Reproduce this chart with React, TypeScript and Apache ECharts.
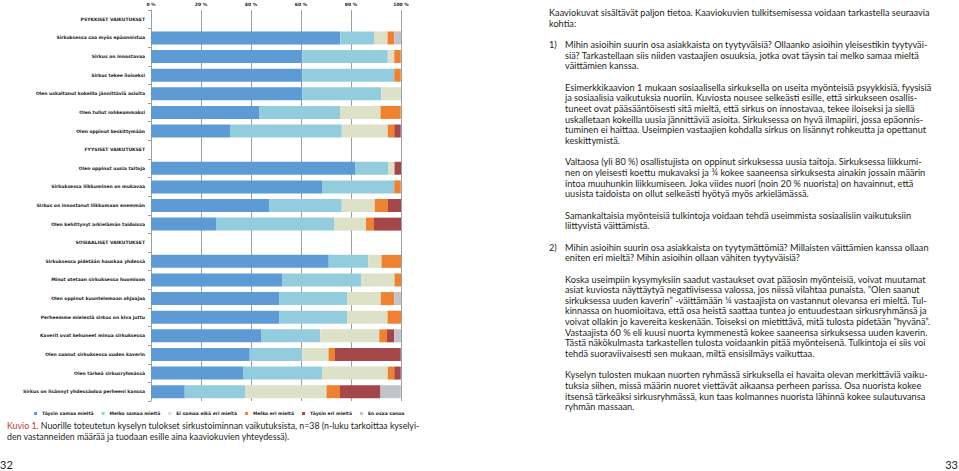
import React, { useEffect, useRef } from "react";
import * as echarts from "echarts";

const categories = [
  "PSYKKISET VAIKUTUKSET",
  "Sirkuksessa saa myös epäonnistua",
  "Sirkus on innostavaa",
  "Sirkus tekee iloiseksi",
  "Olen uskaltanut kokeilla jännittäviä asioita",
  "Olen tullut rohkeammaksi",
  "Olen oppinut keskittymään",
  "FYYSISET VAIKUTUKSET",
  "Olen oppinut uusia taitoja",
  "Sirkuksessa liikkuminen on mukavaa",
  "Sirkus on innostanut liikkumaan enemmän",
  "Olen kehittynyt arkielämän taidoissa",
  "SOSIAALISET VAIKUTUKSET",
  "Sirkuksessa pidetään hauskaa yhdessä",
  "Minut otetaan sirkuksessa huomioon",
  "Olen oppinut kuuntelemaan ohjaajaa",
  "Perheemme mielestä sirkus on kiva juttu",
  "Kaverit ovat kehuneet minua sirkuksessa",
  "Olen saanut sirkuksessa uuden kaverin",
  "Olen tärkeä sirkusryhmässä",
  "Sirkus on lisännyt yhdessäoloa perheeni kanssa",
];

const seriesNames = [
  "Täysin samaa mieltä",
  "Melko samaa mieltä",
  "Ei samaa eikä eri mieltä",
  "Melko eri mieltä",
  "Täysin eri mieltä",
  "En osaa sanoa",
];

const taysinSamaa = [null, 75.7, 60.5, 60.5, 60.5, 43.2, 31.6, null, 81.6, 68.4, 47.4, 26.0, null, 71.1, 52.6, 51.4, 51.4, 44.0, 39.5, 36.8, 13.5];
const melkoSamaa = [null, 13.5, 34.2, 36.8, 31.6, 32.4, 44.7, null, 13.2, 28.9, 28.9, 47.2, null, 15.8, 31.6, 27.0, 27.0, 23.7, 21.0, 31.6, 24.3];
const eiSamaaEiEri = [null, 5.4, 2.6, 0, 7.9, 16.2, 18.4, null, 2.6, 0, 13.2, 12.8, null, 5.3, 13.2, 13.5, 16.2, 23.6, 10.5, 26.3, 32.4];
const melkoEri = [null, 2.7, 2.6, 2.6, 0, 8.1, 2.6, null, 0, 2.6, 5.3, 3.2, null, 7.9, 2.6, 5.4, 5.4, 3.1, 2.6, 2.6, 5.4];
const taysinEri = [null, 0, 0, 0, 0, 0, 2.6, null, 2.6, 0, 5.3, 10.8, null, 0, 0, 0, 0, 2.9, 26.3, 2.6, 16.2];
const enOsaa = [null, 2.7, 0, 0, 0, 0, 0, null, 0, 0, 0, 0, null, 0, 0, 2.7, 0, 2.7, 0, 0, 8.1];

const seriesValues = [taysinSamaa, melkoSamaa, eiSamaaEiEri, melkoEri, taysinEri, enOsaa];
const colors = ["#5E9BD5", "#93CDDD", "#DCE1C8", "#EE8230", "#A3474A", "#C3C4CB"];
const xTicks = [0, 20, 40, 60, 80, 100];

const captionLabel = "Kuvio 1.";
const captionLines = [
  "Nuorille toteutetun kyselyn tulokset sirkustoiminnan vaikutuksista, n=38 (n-luku tarkoittaa kyselyi-",
  "den vastanneiden määrää ja tuodaan esille aina kaaviokuvien yhteydessä).",
];

const rightLines: { t: string; m?: string; ind?: boolean }[] = [
  { t: "Kaaviokuvat sisältävät paljon tietoa. Kaaviokuvien tulkitsemisessa voidaan tarkastella seuraavia" },
  { t: "kohtia:" },
  { t: "" },
  { t: "Mihin asioihin suurin osa asiakkaista on tyytyväisiä? Ollaanko asioihin yleisestikin tyytyväi-", m: "1)", ind: true },
  { t: "siä? Tarkastellaan siis niiden vastaajien osuuksia, jotka ovat täysin tai melko samaa mieltä", ind: true },
  { t: "väittämien kanssa.", ind: true },
  { t: "" },
  { t: "Esimerkkikaavion 1 mukaan sosiaalisella sirkuksella on useita myönteisiä psyykkisiä, fyysisiä", ind: true },
  { t: "ja sosiaalisia vaikutuksia nuoriin. Kuviosta nousee selkeästi esille, että sirkukseen osallis-", ind: true },
  { t: "tuneet ovat pääsääntöisesti sitä mieltä, että sirkus on innostavaa, tekee iloiseksi ja siellä", ind: true },
  { t: "uskalletaan kokeilla uusia jännittäviä asioita. Sirkuksessa on hyvä ilmapiiri, jossa epäonnis-", ind: true },
  { t: "tuminen ei haittaa. Useimpien vastaajien kohdalla sirkus on lisännyt rohkeutta ja opettanut", ind: true },
  { t: "keskittymistä.", ind: true },
  { t: "" },
  { t: "Valtaosa (yli 80 %) osallistujista on oppinut sirkuksessa uusia taitoja. Sirkuksessa liikkumi-", ind: true },
  { t: "nen on yleisesti koettu mukavaksi ja ¾ kokee saaneensa sirkuksesta ainakin jossain määrin", ind: true },
  { t: "intoa muuhunkin liikkumiseen. Joka viides nuori (noin 20 % nuorista) on havainnut, että", ind: true },
  { t: "uusista taidoista on ollut selkeästi hyötyä myös arkielämässä.", ind: true },
  { t: "" },
  { t: "Samankaltaisia myönteisiä tulkintoja voidaan tehdä useimmista sosiaalisiin vaikutuksiin", ind: true },
  { t: "liittyvistä väittämistä.", ind: true },
  { t: "" },
  { t: "Mihin asioihin suurin osa asiakkaista on tyytymättömiä? Millaisten väittämien kanssa ollaan", m: "2)", ind: true },
  { t: "eniten eri mieltä? Mihin asioihin ollaan vähiten tyytyväisiä?", ind: true },
  { t: "" },
  { t: "Koska useimpiin kysymyksiin saadut vastaukset ovat pääosin myönteisiä, voivat muutamat", ind: true },
  { t: "asiat kuviosta näyttäytyä negatiivisessa valossa, jos niissä vilahtaa punaista. ”Olen saanut", ind: true },
  { t: "sirkuksessa uuden kaverin” -väittämään ¼ vastaajista on vastannut olevansa eri mieltä. Tul-", ind: true },
  { t: "kinnassa on huomioitava, että osa heistä saattaa tuntea jo entuudestaan sirkusryhmänsä ja", ind: true },
  { t: "voivat ollakin jo kavereita keskenään. Toiseksi on mietittävä, mitä tulosta pidetään ”hyvänä”.", ind: true },
  { t: "Vastaajista 60 % eli kuusi nuorta kymmenestä kokee saaneensa sirkuksessa uuden kaverin.", ind: true },
  { t: "Tästä näkökulmasta tarkastellen tulosta voidaankin pitää myönteisenä. Tulkintoja ei siis voi", ind: true },
  { t: "tehdä suoraviivaisesti sen mukaan, miltä ensisilmäys vaikuttaa.", ind: true },
  { t: "" },
  { t: "Kyselyn tulosten mukaan nuorten ryhmässä sirkuksella ei havaita olevan merkittäviä vaiku-", ind: true },
  { t: "tuksia siihen, missä määrin nuoret viettävät aikaansa perheen parissa. Osa nuorista kokee", ind: true },
  { t: "itsensä tärkeäksi sirkusryhmässä, kun taas kolmannes nuorista lähinnä kokee sulautuvansa", ind: true },
  { t: "ryhmän massaan.", ind: true },
];

const chartFont = "DejaVu Sans";
const textFont = "Lato";

export default function App() {
  const ref = useRef<HTMLDivElement>(null);
  useEffect(() => {
    if (!ref.current) return;
    const chart = echarts.init(ref.current, undefined, { renderer: "svg" });
    const lbl = { fontFamily: chartFont, fontWeight: "bold" as const, fontSize: 4.5, color: "#222" };
    chart.setOption({
      animation: false,
      grid: { left: 151, top: 10, width: 250, height: 391, containLabel: false },
      xAxis: {
        type: "value",
        position: "top",
        min: xTicks[0],
        max: xTicks[xTicks.length - 1],
        interval: 20,
        axisLabel: { ...lbl, formatter: "{value} %", margin: 3 },
        axisLine: { show: false },
        axisTick: { show: false },
        splitLine: { show: true, lineStyle: { color: "#9f9f9f", width: 1 } },
      },
      yAxis: {
        type: "category",
        inverse: true,
        data: categories,
        axisLine: { show: true, lineStyle: { color: "#9f9f9f", width: 1 } },
        axisTick: { show: true, length: 3, lineStyle: { color: "#9f9f9f" } },
        axisLabel: { ...lbl, margin: 6 },
      },
      legend: {
        left: 29,
        top: 406,
        itemWidth: 3,
        itemHeight: 3,
        itemGap: 8,
        icon: "rect",
        textStyle: { ...lbl },
        data: seriesNames,
      },
      series: seriesNames.map((n, i) => ({
        name: n,
        type: "bar",
        stack: "all",
        barWidth: 13,
        data: seriesValues[i],
        itemStyle: { color: colors[i] },
        emphasis: { disabled: true },
      })),
    });
    return () => chart.dispose();
  }, []);

  const lh = 10.66;
  const fs = 9.2;
  const capStyle: React.CSSProperties = { fontFamily: textFont, fontSize: 8.8, lineHeight: "11px", color: "#231f20", whiteSpace: "pre" };
  return (
    <div style={{ position: "fixed", left: 0, top: 0, width: 959, height: 471, background: "#fff", overflow: "hidden" }}>
      <div ref={ref} style={{ position: "absolute", left: 0, top: 0, width: 959, height: 471 }} />
      {rightLines.map((l, i) => (
        <React.Fragment key={i}>
          {l.m && (
            <div style={{ position: "absolute", left: 549, top: 8 + i * lh, fontFamily: textFont, fontSize: fs, lineHeight: lh + "px", color: "#231f20", whiteSpace: "pre" }}>{l.m}</div>
          )}
          {l.t && (
            <div style={{ position: "absolute", left: l.ind ? 565 : 549, top: 8 + i * lh, fontFamily: textFont, fontSize: fs, lineHeight: lh + "px", color: "#231f20", whiteSpace: "pre" }}>{l.t}</div>
          )}
        </React.Fragment>
      ))}
      <div style={{ position: "absolute", left: 7, top: 420, display: "flex" }}>
        <span style={{ ...capStyle, color: "#be3a2c" }}>{captionLabel}</span>
        <span style={{ ...capStyle }}>{" " + captionLines[0]}</span>
      </div>
      <div style={{ position: "absolute", left: 7, top: 431, ...capStyle }}>{captionLines[1]}</div>
      <div style={{ position: "absolute", left: 0, top: 458, fontFamily: textFont, fontSize: 11, lineHeight: "14px", color: "#231f20" }}>32</div>
      <div style={{ position: "absolute", right: 1, top: 458, fontFamily: textFont, fontSize: 11, lineHeight: "14px", color: "#231f20" }}>33</div>
    </div>
  );
}
